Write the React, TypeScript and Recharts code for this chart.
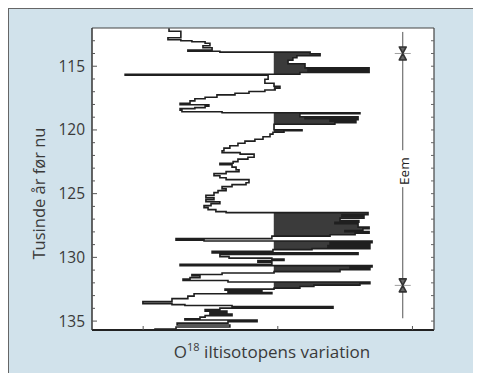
import {
  Area,
  CartesianGrid,
  ComposedChart,
  Line,
  ReferenceDot,
  ReferenceLine,
  XAxis,
  YAxis,
} from "recharts";

// ages (thousand years before present), top to bottom
const ages = [
  112.02, 112.25, 112.76, 112.92, 113.0, 113.08, 113.2, 113.39, 113.55, 113.73,
  113.82, 113.89, 114.02, 114.18, 114.33, 114.53, 114.8, 115.13, 115.26, 115.37,
  115.49, 115.63, 115.71, 116.02, 116.33, 116.57, 116.73, 116.86, 116.98, 117.12,
  117.25, 117.43, 117.55, 117.72, 117.9, 118.02, 118.14, 118.25, 118.33, 118.45,
  118.57, 118.65, 118.73, 118.96, 119.04, 119.12, 119.2, 119.31, 119.43, 119.55,
  119.98, 120.06, 120.18, 120.33, 120.53, 120.73, 120.88, 121.04, 121.24, 121.43,
  121.63, 121.78, 121.9, 122.14, 122.29, 122.49, 122.61, 122.73, 122.92, 123.12,
  123.27, 123.43, 123.59, 123.75, 123.9, 124.14, 124.29, 124.45, 124.61, 124.76,
  124.92, 125.12, 125.31, 125.47, 125.63, 125.78, 125.94, 126.1, 126.25, 126.41,
  126.49, 126.65, 126.76, 126.92, 127.12, 127.24, 127.35, 127.63, 127.75, 127.9,
  127.98, 128.1, 128.22, 128.33, 128.53, 128.65, 128.72, 128.84, 128.96, 129.08,
  129.2, 129.31, 129.39, 129.53, 129.65, 129.78, 129.94, 130.06, 130.14, 130.25,
  130.37, 130.55, 130.65, 130.76, 130.84, 130.96, 131.12, 131.23, 131.35, 131.43,
  131.59, 131.71, 131.82, 131.93, 132.06, 132.18, 132.29, 132.41, 132.49, 132.57,
  132.69, 132.76, 132.86, 133.04, 133.24, 133.47, 133.63, 133.71, 133.78, 133.86,
  133.98, 134.1, 134.22, 134.33, 134.45, 134.57, 134.69, 134.82, 134.92, 135.04,
  135.16, 135.31, 135.47, 135.63, 135.71,
];

// O18 values (per mil), one per age
const o18 = [
  -39.04, -38.6, -39.08, -38.6, -38.19, -37.7, -37.52, -37.78, -37.44, -38.34,
  -37.15, -33.8, -33.43, -34.29, -34.44, -34.62, -33.99, -31.61, -33.88, -31.61,
  -34.18, -40.67, -35.36, -35.48, -35.14, -34.92, -35.1, -35.48, -36.07, -36.59,
  -37.26, -37.7, -38.08, -38.26, -38.63, -37.56, -37.7, -38.08, -38.63, -38.56,
  -37.07, -31.95, -34.18, -32.02, -33.99, -32.02, -33.06, -32.1, -32.88, -35.14,
  -34.1, -34.77, -35.18, -35.29, -35.55, -35.85, -36.22, -36.48, -36.78, -37.0,
  -37.07, -36.4, -35.88, -36.11, -36.48, -36.66, -37.15, -36.7, -36.55, -36.44,
  -36.92, -37.37, -37.15, -36.92, -36.07, -36.18, -36.7, -37.07, -36.92, -37.22,
  -37.37, -37.67, -37.37, -37.67, -37.15, -37.48, -37.74, -37.59, -37.3, -36.92,
  -31.65, -32.62, -31.8, -32.69, -31.99, -32.88, -32.02, -31.61, -31.84, -32.51,
  -31.61, -32.13, -33.06, -35.22, -38.78, -37.74, -31.5, -33.06, -31.58, -33.14,
  -31.58, -33.73, -35.18, -37.44, -32.02, -37.15, -36.81, -35.22, -34.77, -35.74,
  -35.22, -38.63, -31.5, -32.32, -31.58, -32.69, -35.14, -37.07, -38.19, -37.89,
  -38.26, -38.52, -36.85, -31.58, -31.95, -33.66, -34.18, -35.14, -36.96, -35.59,
  -36.85, -35.22, -38.11, -38.34, -38.93, -40.01, -38.93, -38.45, -36.7, -32.95,
  -37.15, -37.7, -36.89, -37.52, -36.7, -37.7, -37.89, -38.45, -35.77, -36.85,
  -38.74, -36.78, -38.78, -39.56, -39.56,
];

const BASE = -35.15;
const yTicks = [
  113, 114, 115, 116, 117, 118, 119, 120, 121, 122, 123, 124, 125, 126, 127,
  128, 129, 130, 131, 132, 133, 134, 135,
];
const xTicks = [-40, -35, -30];
const eemMarks = [114.0, 132.2];
const EEM_X = -30.36;
const eemTop = [112.31, 121.59];
const eemBottom = [124.49, 134.78];
const EEM_TEXT_AGE = 123.23;

const rows = ages.map((age, i) => ({
  age,
  v: o18[i],
  fill: Math.max(o18[i], BASE),
}));

const FONT = "'Open Sans', 'DejaVu Sans', sans-serif";

const LeftTick = (props: any) => {
  const { x, y, payload } = props;
  const major = payload.value % 5 === 0;
  return (
    <g>
      <line x1={x} x2={x + (major ? 5 : 3)} y1={y} y2={y} stroke="#555" />
      {major && (
        <text
          x={x - 7}
          y={y}
          dy={5.5}
          textAnchor="end"
          fontSize={15.5}
          fill="#3a3a3a"
          fontFamily={FONT}
        >
          {payload.value}
        </text>
      )}
    </g>
  );
};

const RightTick = (props: any) => {
  const { x, y } = props;
  return <line x1={x} x2={x - 3} y1={y} y2={y} stroke="#666" />;
};

const BottomTick = (props: any) => {
  const { x, y } = props;
  return <line x1={x} x2={x} y1={y} y2={y - 4} stroke="#555" />;
};

const Hourglass = (props: any) => {
  const { cx, cy } = props;
  return (
    <g>
      <line x1={cx - 8} x2={cx + 8} y1={cy} y2={cy} stroke="#888" strokeWidth={0.8} />
      <path
        d={`M${cx - 3.5},${cy - 6.5} H${cx + 3.5} L${cx - 3.5},${cy + 6.5} H${cx + 3.5} Z`}
        fill="#666"
        stroke="#333"
        strokeWidth={1.6}
        strokeLinejoin="round"
      />
    </g>
  );
};

const EemText = (props: any) => {
  const { cx, cy } = props;
  return (
    <text
      x={cx + 1}
      y={cy}
      transform={`rotate(-90 ${cx + 1} ${cy})`}
      textAnchor="middle"
      dominantBaseline="central"
      fontSize={13.5}
      fill="#222"
      stroke="none"
      fontFamily={FONT}
    >
      Eem
    </text>
  );
};

export default function App() {
  return (
    <div
      style={{
        width: 473,
        height: 365,
        boxSizing: "border-box",
        borderTop: "1px solid #666",
        borderLeft: "1px solid #666",
        background: "#d1e2eb",
        overflow: "hidden",
      }}
    >
      <div style={{ position: "relative", width: 472, height: 364 }}>
        <ComposedChart
          width={472}
          height={364}
          data={rows}
          layout="vertical"
          margin={{ top: 18, right: 46, bottom: 0, left: 0 }}
        >
          <CartesianGrid fill="#fff" horizontal={false} vertical={false} />
          <XAxis
            type="number"
            dataKey="v"
            domain={[-41.9, -29.2]}
            allowDataOverflow
            ticks={xTicks}
            interval={0}
            tick={<BottomTick />}
            tickLine={false}
            tickSize={0}
            tickMargin={0}
            height={43}
            axisLine={{ stroke: "#222", strokeWidth: 2.2 }}
          />
          <XAxis
            xAxisId="top"
            orientation="top"
            type="number"
            dataKey="v"
            domain={[-41.9, -29.2]}
            allowDataOverflow
            tick={false}
            tickLine={false}
            height={1}
            axisLine={{ stroke: "#444", strokeWidth: 1.2 }}
          />
          <YAxis
            type="number"
            dataKey="age"
            domain={[112, 135.7]}
            allowDataOverflow
            ticks={yTicks}
            interval={0}
            tick={<LeftTick />}
            tickLine={false}
            tickSize={0}
            tickMargin={0}
            width={83}
            axisLine={{ stroke: "#333", strokeWidth: 1.5 }}
          />
          <YAxis
            yAxisId="right"
            orientation="right"
            type="number"
            dataKey="age"
            domain={[112, 135.7]}
            allowDataOverflow
            ticks={yTicks}
            interval={0}
            tick={<RightTick />}
            tickLine={false}
            tickSize={0}
            tickMargin={0}
            width={1}
            axisLine={{ stroke: "#444", strokeWidth: 1.2 }}
          />
          <Area
            type="stepBefore"
            dataKey="fill"
            baseValue={BASE}
            fill="#3b3b3b"
            fillOpacity={1}
            stroke="none"
            isAnimationActive={false}
          />
          <Line
            type="stepBefore"
            dataKey="v"
            stroke="#1f1f1f"
            strokeWidth={1.6}
            dot={false}
            isAnimationActive={false}
          />
          <ReferenceLine
            segment={[
              { x: EEM_X, y: eemTop[0] },
              { x: EEM_X, y: eemTop[1] },
            ]}
            stroke="#555"
          />
          <ReferenceLine
            segment={[
              { x: EEM_X, y: eemBottom[0] },
              { x: EEM_X, y: eemBottom[1] },
            ]}
            stroke="#555"
          />
          {eemMarks.map((a) => (
            <ReferenceDot key={a} x={EEM_X} y={a} r={6} shape={<Hourglass />} />
          ))}
          <ReferenceDot x={EEM_X} y={EEM_TEXT_AGE} r={1} shape={<EemText />} />
        </ComposedChart>
        <svg
          width={472}
          height={364}
          style={{ position: "absolute", left: 0, top: 0, pointerEvents: "none" }}
        >
          <text
            x={29}
            y={184.5}
            transform="rotate(-90 29 184.5)"
            textAnchor="middle"
            dominantBaseline="central"
            fontSize={16.5}
            fill="#3a3a3a"
            fontFamily={FONT}
          >
            Tusinde år før nu
          </text>
          <text
            x={263}
            y={349}
            textAnchor="middle"
            fontSize={17}
            fill="#3a3a3a"
            fontFamily={FONT}
          >
            O
            <tspan fontSize={11} dy={-7.5}>
              18
            </tspan>
            <tspan dy={7.5}> iltisotopens variation</tspan>
          </text>
        </svg>
      </div>
    </div>
  );
}
